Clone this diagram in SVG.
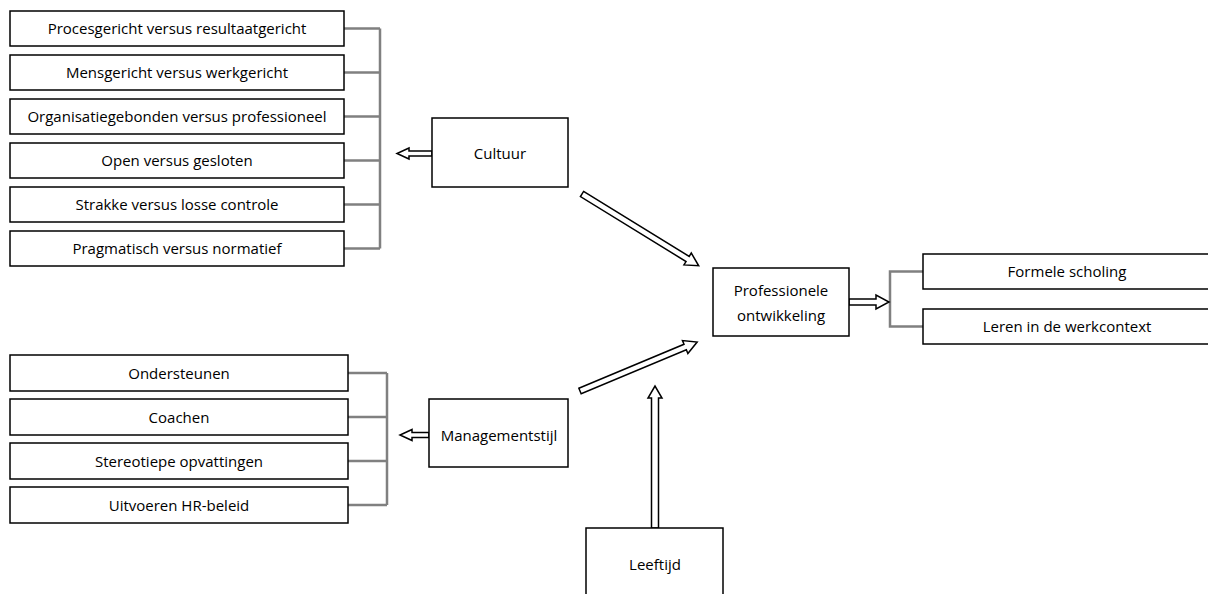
<svg xmlns="http://www.w3.org/2000/svg" width="1208" height="594" viewBox="0 0 1208 594">
<style>
.box{fill:#fff;stroke:#000;stroke-width:1.5}
.t{font-family:"Open Sans","Liberation Sans",sans-serif;font-size:15px;fill:#000;text-anchor:middle}
.br{fill:none;stroke:#808080;stroke-width:2.5}
.ar{fill:#fff;stroke:#000;stroke-width:1.5;stroke-linejoin:miter}
</style>
<rect width="1208" height="594" fill="#fff"/>
<g id="connectors">
<path class="br" d="M344 28.5H380M344 72.5H380M344 116.5H380M344 160.5H380M344 204.5H380M344 248.5H380M380 28.5V248.5"/>
<path class="br" d="M348 373H387M348 417H387M348 461H387M348 505H387M387 373V505"/>
<path class="br" d="M923 271.5H890V326.5H923"/>
<polygon class="ar" points="432,151 409,151 409,148 397,153.5 409,159 409,156 432,156"/>
<polygon class="ar" points="429,432.5 412,432.5 412,429.5 400,435 412,440.5 412,437.5 429,437.5"/>
<polygon class="ar" points="849,299 876,299 876,295 889,302 876,309 876,305 849,305"/>
<polygon class="ar" points="651.5,528 651.5,398 648,398 655,386 662,398 658.5,398 658.5,528"/>
<polygon class="ar" transform="translate(582,194) rotate(31.6)" points="0,-3 124,-3 124,-7 137,0 124,7 124,3 0,3"/>
<polygon class="ar" transform="translate(580,391) rotate(-22.7)" points="0,-3 114,-3 114,-7 127,0 114,7 114,3 0,3"/>
</g>
<g id="n1"><rect class="box" x="10" y="11" width="334" height="35"/><text class="t" x="177" y="34">Procesgericht versus resultaatgericht</text></g>
<g id="n2"><rect class="box" x="10" y="55" width="334" height="35"/><text class="t" x="177" y="78">Mensgericht versus werkgericht</text></g>
<g id="n3"><rect class="box" x="10" y="99" width="334" height="35"/><text class="t" x="177" y="122">Organisatiegebonden versus professioneel</text></g>
<g id="n4"><rect class="box" x="10" y="143" width="334" height="35"/><text class="t" x="177" y="166">Open versus gesloten</text></g>
<g id="n5"><rect class="box" x="10" y="187" width="334" height="35"/><text class="t" x="177" y="210">Strakke versus losse controle</text></g>
<g id="n6"><rect class="box" x="10" y="231" width="334" height="35"/><text class="t" x="177" y="254">Pragmatisch versus normatief</text></g>
<g id="cultuur"><rect class="box" x="432" y="118" width="136" height="69"/><text class="t" x="500" y="158.5">Cultuur</text></g>
<g id="m1"><rect class="box" x="10" y="355" width="338" height="36"/><text class="t" x="179" y="378.5">Ondersteunen</text></g>
<g id="m2"><rect class="box" x="10" y="399" width="338" height="36"/><text class="t" x="179" y="422.5">Coachen</text></g>
<g id="m3"><rect class="box" x="10" y="443" width="338" height="36"/><text class="t" x="179" y="466.5">Stereotiepe opvattingen</text></g>
<g id="m4"><rect class="box" x="10" y="487" width="338" height="36"/><text class="t" x="179" y="510.5">Uitvoeren HR-beleid</text></g>
<g id="management"><rect class="box" x="429" y="399" width="139" height="68"/><text class="t" x="499" y="440.5">Managementstijl</text></g>
<g id="prof"><rect class="box" x="713" y="268" width="136" height="68"/><text class="t" x="781" y="295.5">Professionele</text><text class="t" x="781" y="320.5">ontwikkeling</text></g>
<g id="formeel"><rect class="box" x="923" y="254" width="290" height="35"/><text class="t" x="1067" y="277">Formele scholing</text></g>
<g id="leren"><rect class="box" x="923" y="309" width="290" height="35"/><text class="t" x="1067" y="332">Leren in de werkcontext</text></g>
<g id="leeftijd"><rect class="box" x="586" y="528" width="137" height="80"/><text class="t" x="655" y="569.5">Leeftijd</text></g>
</svg>
